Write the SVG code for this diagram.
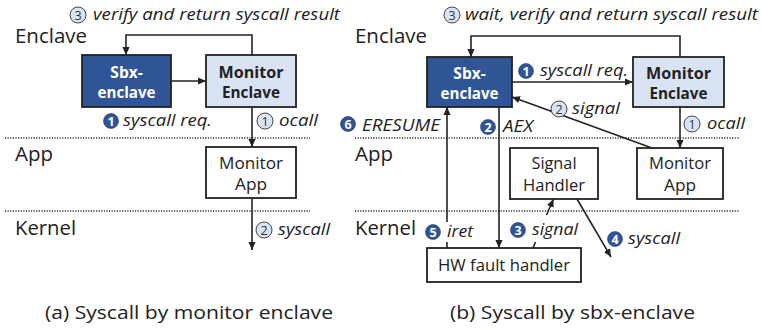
<svg xmlns="http://www.w3.org/2000/svg" width="761" height="330" viewBox="0 0 761 330">
<defs>
<marker id="ah" viewBox="0 0 10 10" refX="10" refY="5" markerWidth="8" markerHeight="8" markerUnits="userSpaceOnUse" orient="auto">
<path d="M0,0.5 L10,5 L0,9.5 z" fill="#222"/>
</marker>
<style>
text{font-family:"Open Sans","Liberation Sans",sans-serif;fill:#222}
.layer{font-size:20px}
.lbl{font-size:16.5px;font-style:italic}
.box{stroke:#222;stroke-width:1.8}
.dark{fill:#2F5597}
.light{fill:#DAE3F3}
.white{fill:#fff}
.bt{font-size:15.5px;font-weight:bold;text-anchor:middle}
.nt{font-size:15.5px;text-anchor:middle}
.cap{font-size:19px}
.dot{stroke:#333;stroke-width:1.4;stroke-dasharray:1.2 1.4;fill:none}
.ln{stroke:#222;stroke-width:1.6;fill:none}
.cf{fill:#2F5597;stroke:#1F3864;stroke-width:0.6}
.cl{fill:#DAE3F3;stroke:#333;stroke-width:0.9}
.nw{font-size:12.5px;font-weight:bold;fill:#fff;text-anchor:middle}
.nd{font-size:12.5px;fill:#333;text-anchor:middle}
</style>
</defs>

<!-- layer separators and labels -->
<g id="layers">
<line class="dot" x1="5" y1="138" x2="310" y2="138"/>
<line class="dot" x1="5" y1="211" x2="310" y2="211"/>
<line class="dot" x1="355" y1="138" x2="740" y2="138"/>
<line class="dot" x1="355" y1="211" x2="740" y2="211"/>
<text class="layer" x="15" y="43" textLength="72" lengthAdjust="spacingAndGlyphs">Enclave</text>
<text class="layer" x="15" y="161" textLength="38" lengthAdjust="spacingAndGlyphs">App</text>
<text class="layer" x="15" y="235" textLength="61" lengthAdjust="spacingAndGlyphs">Kernel</text>
<text class="layer" x="355" y="43" textLength="72" lengthAdjust="spacingAndGlyphs">Enclave</text>
<text class="layer" x="355" y="161" textLength="38" lengthAdjust="spacingAndGlyphs">App</text>
<text class="layer" x="355" y="235" textLength="61" lengthAdjust="spacingAndGlyphs">Kernel</text>
</g>

<!-- connectors -->
<g id="connectors">
<!-- left panel -->
<polyline class="ln" points="252,55 252,35 126,35 126,55" marker-end="url(#ah)"/>
<line class="ln" x1="171" y1="81" x2="206" y2="81" marker-end="url(#ah)"/>
<line class="ln" x1="252" y1="107" x2="252" y2="147" marker-end="url(#ah)"/>
<line class="ln" x1="252" y1="198" x2="252" y2="250" marker-end="url(#ah)"/>
<!-- right panel -->
<polyline class="ln" points="680,57 680,36 471,36 471,57" marker-end="url(#ah)"/>
<line class="ln" x1="512" y1="82" x2="633" y2="82" marker-end="url(#ah)"/>
<line class="ln" x1="680" y1="107" x2="680" y2="148" marker-end="url(#ah)"/>
<line class="ln" x1="652" y1="148" x2="512" y2="97" marker-end="url(#ah)"/>
<line class="ln" x1="447" y1="248" x2="447" y2="242"/>
<line class="ln" x1="447" y1="222" x2="447" y2="107" marker-end="url(#ah)"/>
<line class="ln" x1="499" y1="107" x2="499" y2="248" marker-end="url(#ah)"/>
<line class="ln" x1="533" y1="248" x2="535.5" y2="242"/>
<line class="ln" x1="546.5" y1="215" x2="553.5" y2="199" marker-end="url(#ah)"/>
<line class="ln" x1="577" y1="199" x2="611" y2="257" marker-end="url(#ah)"/>
</g>

<!-- left panel nodes -->
<g id="sbx-a">
<rect class="box dark" x="82" y="55" width="89" height="52"/>
<text class="bt" x="126.5" y="78" style="fill:#fff">Sbx-</text>
<text class="bt" x="126.5" y="98" style="fill:#fff" textLength="58" lengthAdjust="spacingAndGlyphs">enclave</text>
</g>
<g id="monitor-enclave-a">
<rect class="box light" x="206" y="55" width="90" height="52"/>
<text class="bt" x="251" y="78" textLength="65" lengthAdjust="spacingAndGlyphs">Monitor</text>
<text class="bt" x="251" y="98" textLength="58" lengthAdjust="spacingAndGlyphs">Enclave</text>
</g>
<g id="monitor-app-a">
<rect class="box white" x="206" y="147" width="90" height="51"/>
<text class="nt" x="251" y="169" textLength="64" lengthAdjust="spacingAndGlyphs">Monitor</text>
<text class="nt" x="251" y="190" textLength="32" lengthAdjust="spacingAndGlyphs">App</text>
</g>

<!-- right panel nodes -->
<g id="sbx-b">
<rect class="box dark" x="427" y="57" width="85" height="50"/>
<text class="bt" x="469.5" y="79" style="fill:#fff">Sbx-</text>
<text class="bt" x="469.5" y="99" style="fill:#fff" textLength="58" lengthAdjust="spacingAndGlyphs">enclave</text>
</g>
<g id="monitor-enclave-b">
<rect class="box light" x="633" y="57" width="91" height="50"/>
<text class="bt" x="678.5" y="79" textLength="65" lengthAdjust="spacingAndGlyphs">Monitor</text>
<text class="bt" x="678.5" y="99" textLength="58" lengthAdjust="spacingAndGlyphs">Enclave</text>
</g>
<g id="signal-handler">
<rect class="box white" x="510" y="148" width="88" height="51"/>
<text class="nt" x="554" y="169" textLength="45" lengthAdjust="spacingAndGlyphs">Signal</text>
<text class="nt" x="554" y="191" textLength="62" lengthAdjust="spacingAndGlyphs">Handler</text>
</g>
<g id="monitor-app-b">
<rect class="box white" x="637" y="148" width="86" height="51"/>
<text class="nt" x="680" y="169" textLength="62" lengthAdjust="spacingAndGlyphs">Monitor</text>
<text class="nt" x="680" y="191" textLength="32" lengthAdjust="spacingAndGlyphs">App</text>
</g>
<g id="hw-fault-handler">
<rect class="box white" x="427" y="248" width="154" height="34"/>
<text class="nt" x="504" y="271" textLength="132" lengthAdjust="spacingAndGlyphs">HW fault handler</text>
</g>

<!-- connector labels -->
<g id="labels">
<circle class="cl" cx="78" cy="15" r="8"/><text class="nd" x="78" y="19.5">3</text>
<text class="lbl" x="93" y="20" textLength="247" lengthAdjust="spacingAndGlyphs">verify and return syscall result</text>
<circle class="cf" cx="111" cy="121" r="7.5"/><text class="nw" x="111" y="125.5">1</text>
<text class="lbl" x="123" y="126" textLength="89" lengthAdjust="spacingAndGlyphs">syscall req.</text>
<circle class="cl" cx="265" cy="121" r="8"/><text class="nd" x="265" y="125.5">1</text>
<text class="lbl" x="279" y="126" textLength="39" lengthAdjust="spacingAndGlyphs">ocall</text>
<circle class="cl" cx="264" cy="230" r="8"/><text class="nd" x="264" y="234.5">2</text>
<text class="lbl" x="278" y="235" textLength="52" lengthAdjust="spacingAndGlyphs">syscall</text>

<circle class="cl" cx="452" cy="15" r="8"/><text class="nd" x="452" y="19.5">3</text>
<text class="lbl" x="465" y="20" textLength="293" lengthAdjust="spacingAndGlyphs">wait, verify and return syscall result</text>
<circle class="cf" cx="526" cy="71" r="7.5"/><text class="nw" x="526" y="75.5">1</text>
<text class="lbl" x="540" y="76" textLength="88" lengthAdjust="spacingAndGlyphs">syscall req.</text>
<circle class="cl" cx="559" cy="109" r="8"/><text class="nd" x="559" y="113.5">2</text>
<text class="lbl" x="572" y="114" textLength="48" lengthAdjust="spacingAndGlyphs">signal</text>
<circle class="cl" cx="692" cy="124" r="8"/><text class="nd" x="692" y="128.5">1</text>
<text class="lbl" x="707" y="129" textLength="38" lengthAdjust="spacingAndGlyphs">ocall</text>
<circle class="cf" cx="348" cy="124" r="7.5"/><text class="nw" x="348" y="128.5">6</text>
<text class="lbl" x="362" y="131" textLength="78" lengthAdjust="spacingAndGlyphs">ERESUME</text>
<circle class="cf" cx="488" cy="127" r="7.5"/><text class="nw" x="488" y="131.5">2</text>
<text class="lbl" x="503" y="132" textLength="30" lengthAdjust="spacingAndGlyphs">AEX</text>
<circle class="cf" cx="433" cy="232" r="7.5"/><text class="nw" x="433" y="236.5">5</text>
<text class="lbl" x="447" y="237" textLength="26" lengthAdjust="spacingAndGlyphs">iret</text>
<circle class="cf" cx="518" cy="230" r="7.5"/><text class="nw" x="518" y="234.5">3</text>
<text class="lbl" x="532" y="235" textLength="46" lengthAdjust="spacingAndGlyphs">signal</text>
<circle class="cf" cx="615" cy="239" r="7.5"/><text class="nw" x="615" y="243.5">4</text>
<text class="lbl" x="628" y="244" textLength="52" lengthAdjust="spacingAndGlyphs">syscall</text>
</g>

<!-- captions -->
<g id="captions">
<text class="cap" x="45" y="319" textLength="288" lengthAdjust="spacingAndGlyphs">(a) Syscall by monitor enclave</text>
<text class="cap" x="450" y="319" textLength="245" lengthAdjust="spacingAndGlyphs">(b) Syscall by sbx-enclave</text>
</g>
</svg>
